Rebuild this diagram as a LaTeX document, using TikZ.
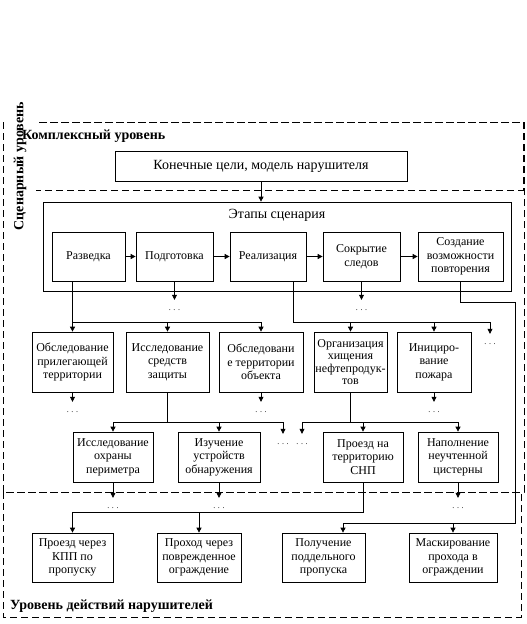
\documentclass[tikz,border=0pt]{standalone}
\usepackage{fontspec}
\setmainfont{Liberation Serif}
\usetikzlibrary{arrows.meta}
\begin{document}
\begin{tikzpicture}[x=1pt,y=-1pt,
  box/.style={draw,line width=0.7pt,inner sep=0pt,align=center,font=\fontsize{12}{13.5}\selectfont},
  arr/.style={line width=0.7pt,-{Triangle[length=5pt,width=5pt]}},
  ln/.style={line width=0.7pt},
  dashbox/.style={line width=0.7pt,dash pattern=on 7pt off 4pt},
  dotsn/.style={inner sep=0pt,anchor=base,text height=10pt,text depth=0pt,font=\fontsize{8}{8}\selectfont},
  lvl/.style={font=\fontsize{14}{16}\selectfont\bfseries,inner sep=0pt}]
\useasboundingbox (0,0) rectangle (527,624);
% level frames
\draw[dashbox] (3,122) rectangle (524,492);
\draw[dashbox] (3,122) rectangle (523,190);
\draw[dashbox] (3,492) rectangle (521,617);
\node[rotate=90,fill=white,minimum width=136pt,minimum height=32pt,inner sep=0pt,font=\fontsize{14}{16}\selectfont\bfseries] (scl) at (20,166) {Сценарный уровень};
\node[lvl,anchor=west] (cl) at (22,136) {Комплексный уровень};
\node[lvl,anchor=west] (al) at (10,606) {Уровень действий нарушителей};
% goal
\node[box,minimum width=292pt,minimum height=30pt,font=\fontsize{14}{16}\selectfont] (goal) at (261,166) {Конечные цели, модель нарушителя};
% stages
\node[draw,line width=0.7pt,minimum width=468pt,minimum height=89pt,inner sep=0pt] (stg) at (277,246.5) {};
\node[inner sep=0pt,font=\fontsize{14}{16}\selectfont] (stgt) at (277,215) {Этапы сценария};
\node[box,minimum width=73pt,minimum height=49pt] (razv) at (88.5,256.5) {Разведка};
\node[box,minimum width=77pt,minimum height=49pt] (podg) at (174.5,256.5) {Подготовка};
\node[box,minimum width=76pt,minimum height=49pt] (real) at (268,256.5) {Реализация};
\node[box,minimum width=77pt,minimum height=49pt] (sokr) at (361.5,256.5) {Сокрытие\\следов};
\node[box,minimum width=85pt,minimum height=49pt] (sozd) at (460.5,256.5) {Создание\\возможности\\повторения};
% row 2
\node[box,minimum width=81pt,minimum height=60pt] (r2a) at (72.5,362) {Обследование\\прилегающей\\территории};
\node[box,minimum width=83pt,minimum height=60pt] (r2b) at (167.5,362) {Исследование\\средств\\защиты};
\node[box,minimum width=84pt,minimum height=60pt] (r2c) at (261,362) {Обследовани\\е территории\\объекта};
\node[box,minimum width=73pt,minimum height=60pt,font=\fontsize{12}{12.5}\selectfont] (r2d) at (350.5,362) {\makebox[60pt]{Организация}\\хищения\\\makebox[60pt]{нефтепродук-}\\тов};
\node[box,minimum width=74pt,minimum height=60pt] (r2e) at (434,362) {Инициро-\\вание\\пожара};
% row 3
\node[box,minimum width=80pt,minimum height=50pt] (r3a) at (113,457) {Исследование\\охраны\\периметра};
\node[box,minimum width=82pt,minimum height=50pt] (r3b) at (219,457) {Изучение\\устройств\\обнаружения};
\node[box,minimum width=80pt,minimum height=50pt] (r3c) at (363,457) {Проезд на\\территорию\\СНП};
\node[box,minimum width=80pt,minimum height=50pt] (r3d) at (458,457) {Наполнение\\неучтенной\\цистерны};
% row 4
\node[box,minimum width=81pt,minimum height=49pt] (r4a) at (72.5,557.5) {Проезд через\\КПП по\\пропуску};
\node[box,minimum width=84pt,minimum height=49pt] (r4b) at (199,557.5) {Проход через\\поврежденное\\ограждение};
\node[box,minimum width=83pt,minimum height=49pt] (r4c) at (323.5,557.5) {Получение\\поддельного\\пропуска};
\node[box,minimum width=88pt,minimum height=49pt] (r4d) at (453,557.5) {Маскирование\\прохода в\\ограждении};
% dots
\node[dotsn] (d1) at (174.5,310) {. . .};
\node[dotsn] (d2) at (361.5,310) {. . .};
\node[dotsn] (d3) at (490,344) {. . .};
\node[dotsn] (d4) at (72.5,412) {. . .};
\node[dotsn] (d5) at (261,412) {. . .};
\node[dotsn] (d6) at (434,412) {. . .};
\node[dotsn] (d7) at (283,444) {. . .};
\node[dotsn] (d8) at (302,444) {. . .};
\node[dotsn] (d9) at (113,508) {. . .};
\node[dotsn] (d10) at (219,508) {. . .};
\node[dotsn] (d11) at (458,508) {. . .};
% connectors
\draw[arr] (goal.south) -- (goal.south |- stg.north);
\draw[arr] (razv) -- (podg);
\draw[arr] (podg) -- (real);
\draw[arr] (real) -- (sokr);
\draw[arr] (sokr) -- (sozd);
\coordinate (jA) at (0,322);
\draw[ln] (razv.south -| r2a.north) -- (r2a.north |- jA) -- (r2c.north |- jA);
\draw[arr] (r2a.north |- jA) -- (r2a.north);
\draw[arr] (r2b.north |- jA) -- (r2b.north);
\draw[arr] (r2c.north |- jA) -- (r2c.north);
\draw[arr] (podg.south) -- (d1.north);
\draw[arr] (sokr.south) -- (d2.north);
\coordinate (rx) at (293,322);
\draw[ln] (real.south -| rx) -- (rx) -- (d3.north |- rx);
\draw[arr] (r2d.north |- rx) -- (r2d.north);
\draw[arr] (r2e.north |- rx) -- (r2e.north);
\draw[arr] (d3.north |- rx) -- (d3.north);
\coordinate (s1) at (460.5,302);
\coordinate (s2) at (515,302);
\coordinate (s3) at (515,523);
\coordinate (s4) at (343,523);
\draw[ln] (sozd.south) -- (s1) -- (s2) -- (s3) -- (s4);
\draw[arr] (s4) -- (s4 |- r4c.north);
\draw[arr] (r4d.north |- s3) -- (r4d.north);
\draw[arr] (r2a.south) -- (d4.north);
\draw[arr] (r2c.south) -- (d5.north);
\draw[arr] (r2e.south) -- (d6.north);
\coordinate (jB) at (0,422);
\draw[ln] (r2b.south) -- (r2b.south |- jB);
\draw[ln] (r3a.north |- jB) -- (d7.north |- jB);
\draw[arr] (r3a.north |- jB) -- (r3a.north);
\draw[arr] (r3b.north |- jB) -- (r3b.north);
\draw[arr] (d7.north |- jB) -- (d7.north);
\draw[ln] (r2d.south) -- (r2d.south |- jB);
\draw[ln] (d8.north |- jB) -- (r3d.north |- jB);
\draw[arr] (d8.north |- jB) -- (d8.north);
\draw[arr] (r3c.north |- jB) -- (r3c.north);
\draw[arr] (r3d.north |- jB) -- (r3d.north);
\draw[arr] (r3a.south) -- (d9.north);
\draw[arr] (r3b.south) -- (d10.north);
\draw[arr] (r3d.south) -- (d11.north);
\coordinate (jC) at (0,512);
\draw[ln] (r3c.south) -- (r3c.south |- jC) -- (r4a.north |- jC);
\draw[arr] (r4a.north |- jC) -- (r4a.north);
\draw[arr] (r4b.north |- jC) -- (r4b.north);
\end{tikzpicture}
\end{document}
